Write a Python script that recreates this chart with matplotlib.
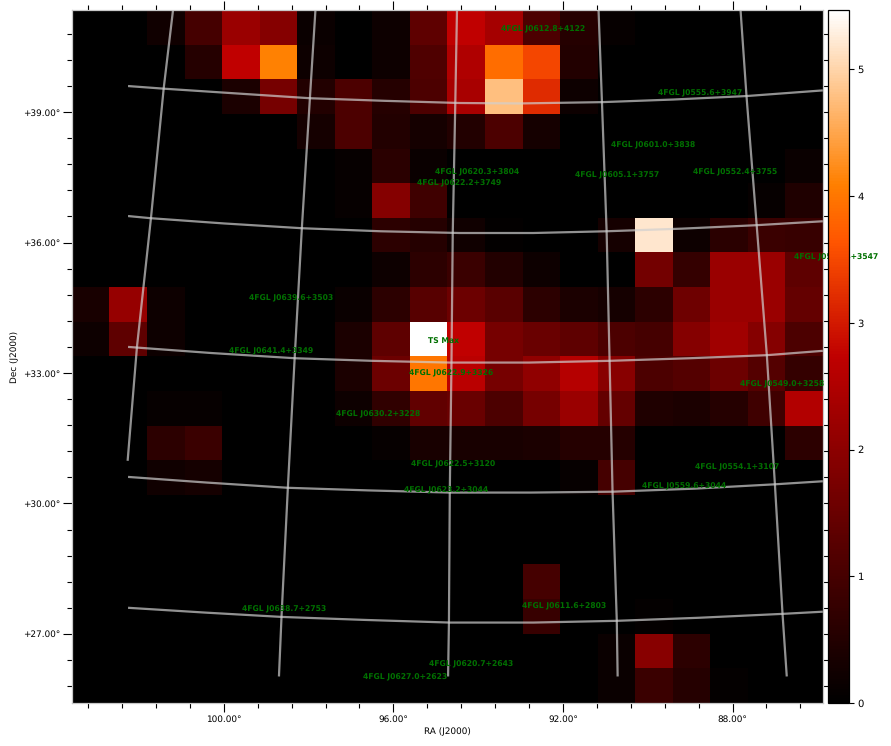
import matplotlib
matplotlib.use("Agg")
import matplotlib.pyplot as plt
import numpy as np
from matplotlib.ticker import MultipleLocator, FuncFormatter

plt.rcParams["text.hinting"] = "no_hinting"
plt.rcParams["text.hinting_factor"] = 8

# TS map values, top row first (20 x 20 cells)
row00 = [0, 0, .25, 1.0, 2.2, 1.9, .15, 0, .2, 1.35, 2.75, 2.35, 1.1, .55, .1, 0, 0, 0, 0, 0]
row01 = [0, 0, 0, .55, 2.75, 4.1, .2, 0, .2, 1.15, 2.5, 3.9, 3.5, .5, 0, 0, 0, 0, 0, 0]
row02 = [0, 0, 0, 0, .4, 1.7, .5, 1.1, .55, 1.1, 2.4, 4.78, 3.2, .2, 0, 0, 0, 0, 0, 0]
row03 = [0, 0, 0, 0, 0, 0, .3, 1.1, .5, .3, .5, 1.1, .3, 0, 0, 0, 0, 0, 0, 0]
row04 = [0, 0, 0, 0, 0, 0, 0, .1, .6, .15, 0, 0, 0, 0, 0, 0, 0, 0, 0, .15]
row05 = [0, 0, 0, 0, 0, 0, 0, .1, 1.9, .9, 0, 0, 0, 0, 0, 0, 0, 0, .1, .45]
row06 = [0, 0, 0, 0, 0, 0, 0, 0, .65, .55, .25, .05, 0, 0, .3, 5.2, .2, .6, .85, .8]
row07 = [0, 0, 0, 0, 0, 0, 0, 0, .2, .65, .85, .5, .2, 0, 0, 1.65, .75, 2.2, 2.2, 1.35]
row08 = [.35, 2.15, .2, 0, 0, 0, 0, .15, .65, 1.25, 1.55, 1.3, .65, .4, .3, .65, 1.6, 2.2, 2.2, 1.45]
row09 = [.2, 1.35, .2, 0, 0, 0, 0, .4, 1.35, 5.46, 2.75, 1.7, 1.5, 1.35, 1.1, 1.0, 1.9, 2.3, 1.9, 1.1]
row10 = [0, 0, 0, 0, 0, 0, 0, .4, 1.55, 4.0, 2.65, 1.7, 2.05, 2.6, 1.95, 1.1, 1.2, 1.55, 1.2, .75]
row11 = [0, 0, .1, .1, 0, 0, 0, .2, .7, 1.4, 1.5, 1.1, 1.7, 2.2, 1.45, .45, .4, .55, .9, 2.55]
row12 = [0, 0, .65, .85, 0, 0, 0, .02, .1, .35, .35, .35, .4, .55, .55, 0, 0, 0, 0, .65]
row13 = [0, 0, .25, .3, 0, 0, 0, 0, 0, 0, 0, 0, 0, .1, 1.0, 0, 0, 0, 0, 0]
row14 = [0] * 20
row15 = [0] * 20
row16 = [0, 0, 0, 0, 0, 0, 0, 0, 0, 0, 0, 0, 1.0, 0, 0, 0, 0, 0, 0, 0]
row17 = [0, 0, 0, 0, 0, 0, 0, 0, 0, 0, 0, 0, .8, 0, 0, .08, 0, 0, 0, 0]
row18 = [0, 0, 0, 0, 0, 0, 0, 0, 0, 0, 0, 0, 0, 0, .15, 1.95, .65, 0, 0, 0]
row19 = [0, 0, 0, 0, 0, 0, 0, 0, 0, 0, 0, 0, 0, 0, .15, .85, .55, .08, 0, 0]
ts_rows = [row00, row01, row02, row03, row04, row05, row06, row07, row08, row09,
           row10, row11, row12, row13, row14, row15, row16, row17, row18, row19]

# Source labels
source_names = ["4FGL J0612.8+4122", "4FGL J0555.6+3947", "4FGL J0601.0+3838",
                "4FGL J0620.3+3804", "4FGL J0622.2+3749", "4FGL J0605.1+3757",
                "4FGL J0552.4+3755", "4FGL J0639.6+3503", "4FGL J0641.4+3349",
                "TS Max", "4FGL J0622.9+3326", "4FGL J0549.0+3258",
                "4FGL J0630.2+3228", "4FGL J0622.5+3120", "4FGL J0623.2+3044",
                "4FGL J0554.1+3107", "4FGL J0559.6+3044", "4FGL J0611.6+2803",
                "4FGL J0638.7+2753", "4FGL J0620.7+2643", "4FGL J0627.0+2623",
                "4FGL J0544.4+3547"]
source_ra = [92.46, 88.76, 89.87, 94.03, 94.45, 90.73, 87.95, 98.42, 98.89, 94.81, 94.65,
             86.82, 96.37, 94.60, 94.76, 87.88, 89.15, 91.98, 98.58, 94.16, 95.73, 85.55]
source_dec = [40.91, 39.44, 38.24, 37.62, 37.37, 37.55, 37.62, 34.72, 33.51, 33.71, 33.00,
              32.75, 32.06, 30.91, 30.31, 30.84, 30.40, 27.64, 27.57, 26.31, 26.01, 35.67]

# Coordinate grid: parallels
par1_ra = [102.26, 101.42, 99.7, 97.97, 96.2, 94.43, 93.02, 91.08, 89.4, 87.67, 85.87]
par1_dec = [39.60, 39.54, 39.43, 39.32, 39.26, 39.21, 39.20, 39.23, 39.29, 39.37, 39.50]
par2_ra = [102.26, 101.72, 100.0, 98.16, 96.3, 94.43, 92.7, 90.97, 89.2, 87.43, 85.87]
par2_dec = [36.61, 36.56, 36.44, 36.33, 36.26, 36.22, 36.22, 36.26, 36.32, 36.40, 36.49]
par3_ra = [102.26, 100.3, 98.33, 96.5, 94.67, 92.8, 90.90, 89.0, 87.19, 85.87]
par3_dec = [33.60, 33.46, 33.34, 33.28, 33.24, 33.24, 33.28, 33.34, 33.41, 33.51]
par4_ra = [102.26, 100.4, 98.49, 96.6, 94.67, 92.75, 90.83, 88.9, 87.0, 85.87]
par4_dec = [30.61, 30.48, 30.36, 30.30, 30.25, 30.25, 30.27, 30.34, 30.44, 30.51]
par5_ra = [102.26, 100.45, 98.64, 96.65, 94.67, 92.7, 90.73, 88.8, 86.82, 85.87]
par5_dec = [27.60, 27.49, 27.39, 27.32, 27.26, 27.26, 27.30, 27.37, 27.46, 27.51]
# Coordinate grid: meridians
mer1_ra = [101.20, 101.42, 101.72, 102.05, 102.27]
mer1_dec = [41.34, 39.54, 36.56, 33.60, 30.98]
mer2_ra = [97.84, 97.97, 98.16, 98.33, 98.49, 98.64, 98.70]
mer2_dec = [41.34, 39.32, 36.33, 33.34, 30.36, 27.39, 26.02]
mer3_ra = [94.50, 94.54, 94.60, 94.63, 94.67, 94.69, 94.71]
mer3_dec = [41.34, 39.21, 36.22, 33.24, 30.25, 27.26, 26.02]
mer4_ra = [91.16, 91.08, 90.97, 90.90, 90.83, 90.73, 90.71]
mer4_dec = [41.34, 39.23, 36.26, 33.28, 30.27, 27.30, 26.02]
mer5_ra = [87.81, 87.67, 87.43, 87.19, 87.00, 86.82, 86.72]
mer5_dec = [41.34, 39.37, 36.40, 33.41, 30.44, 27.46, 26.02]
grid_lines = [(par1_ra, par1_dec), (par2_ra, par2_dec), (par3_ra, par3_dec),
              (par4_ra, par4_dec), (par5_ra, par5_dec), (mer1_ra, mer1_dec),
              (mer2_ra, mer2_dec), (mer3_ra, mer3_dec), (mer4_ra, mer4_dec),
              (mer5_ra, mer5_dec)]

W, H = 891, 746
fig = plt.figure(figsize=(W / 100, H / 100), dpi=100)
ax_l, ax_r, ax_t, ax_b = 72.1, 822.8, 10.4, 703.0
ax = fig.add_axes([ax_l / W, 1 - ax_b / H, (ax_r - ax_l) / W, (ax_b - ax_t) / H])
cax = fig.add_axes([828.3 / W, 1 - ax_b / H, (848.5 - 828.3) / W, (ax_b - ax_t) / H])

ra_left, ra_right = 103.58, 85.87
dec_bottom, dec_top = 25.41, 41.34
im = ax.imshow(np.array(ts_rows), cmap="gist_heat", vmin=0, vmax=5.465, origin="upper",
               extent=[ra_left, ra_right, dec_bottom, dec_top], aspect="auto",
               interpolation="nearest")

for gx, gy in grid_lines:
    ax.plot(gx, gy, color="#d0d0d0", lw=1.6, alpha=0.7, solid_capstyle="butt", zorder=3)

for name, r, d in zip(source_names, source_ra, source_dec):
    ax.text(r, d, name, color="#007000", fontsize=5.5, fontweight="bold",
            ha="center", va="center", clip_on=False, zorder=4)

ax.set_xlim(ra_left, ra_right)
ax.set_ylim(dec_bottom, dec_top)
ax.xaxis.set_major_locator(MultipleLocator(4))
ax.xaxis.set_minor_locator(MultipleLocator(0.8))
ax.yaxis.set_major_locator(MultipleLocator(3))
ax.yaxis.set_minor_locator(MultipleLocator(0.6))
ax.xaxis.set_major_formatter(FuncFormatter(lambda v, p: f"{v:.2f}°"))
ax.yaxis.set_major_formatter(FuncFormatter(lambda v, p: f"+{v:.2f}°"))
ax.tick_params(which="major", direction="out", length=6.5, width=0.8, labelsize=6.4,
               top=True, right=True, pad=2, colors="black")
ax.tick_params(which="minor", direction="out", length=3.5, width=0.8, top=True, right=True)
for s in ax.spines.values():
    s.set_color("#c8c8c8")
    s.set_linewidth(0.9)
ax.set_xlabel("RA (J2000)", fontsize=6.4, labelpad=2.5)
ax.set_ylabel("Dec (J2000)", fontsize=6.4, labelpad=3)

cb = fig.colorbar(im, cax=cax)
cb.set_ticks([0, 1, 2, 3, 4, 5])
cb.ax.tick_params(labelsize=7.2, length=3.5, width=0.8, pad=3)
cb.outline.set_linewidth(0.9)
cax.set_zorder(5)

fig.savefig("out.png", dpi=100)
